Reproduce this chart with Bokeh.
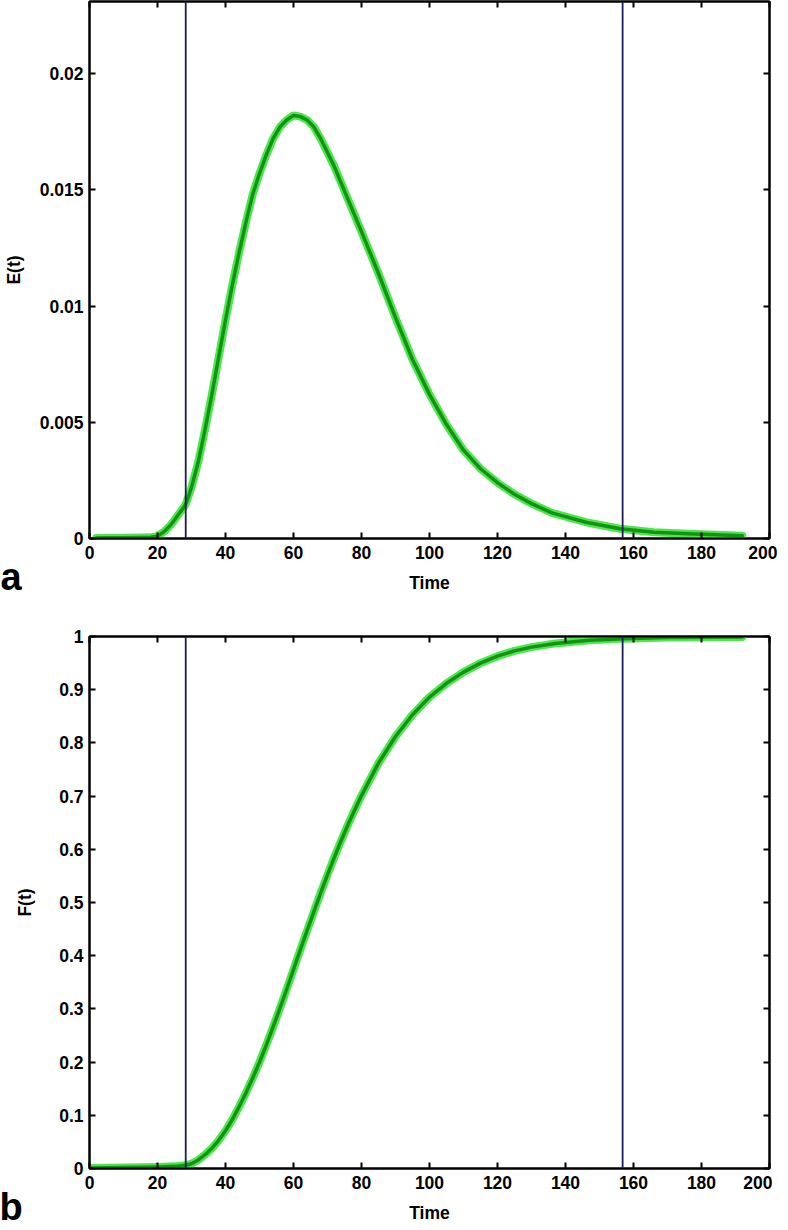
from bokeh.plotting import figure
from bokeh.layouts import column
from bokeh.models import (Range1d, LinearAxis, FixedTicker, CustomJSTickFormatter,
                          Span, Title)
from bokeh.embed import file_html
from bokeh.resources import INLINE

# ---------------- data ----------------
time_E = [2, 5, 10, 15, 18, 20, 22, 24, 26, 28, 28.5, 30, 32, 34, 36, 38, 40, 42,
          44, 46, 48, 50, 52, 54, 56, 58, 60, 62, 64, 66, 68, 70, 72, 74, 76, 78,
          80, 85, 90, 95, 100, 105, 110, 115, 120, 125, 130, 136, 146, 156, 166,
          176, 184, 192]
E_vals = [0.00002, 0.00003, 0.00003, 0.00004, 0.00005, 0.0001, 0.0003, 0.0006,
          0.0010, 0.0014, 0.00155, 0.0022, 0.0033, 0.0047, 0.0062, 0.0078, 0.0094,
          0.0109, 0.0123, 0.0136, 0.0148, 0.0157, 0.0165, 0.0172, 0.0177, 0.0180,
          0.0182, 0.01815, 0.0180, 0.0177, 0.0172, 0.0166, 0.0160, 0.0153, 0.0146,
          0.0139, 0.0132, 0.0114, 0.0095, 0.0077, 0.0062, 0.0049, 0.0038, 0.0030,
          0.0024, 0.0019, 0.0015, 0.0011, 0.0007, 0.00042, 0.00027, 0.0002,
          0.00016, 0.00012]

time_F = [0, 10, 20, 25, 28.3, 30, 32, 34, 36, 38, 40, 42, 44, 46, 48, 50, 52, 54,
          56, 58, 60, 62, 64, 66, 68, 70, 72, 74, 76, 78, 80, 85, 90, 95, 100, 105,
          110, 115, 120, 125, 130, 137, 147, 157, 170, 192]
F_vals = [0.001, 0.002, 0.003, 0.004, 0.006, 0.009, 0.016, 0.026, 0.038, 0.053,
          0.071, 0.092, 0.116, 0.142, 0.170, 0.200, 0.232, 0.266, 0.301, 0.337,
          0.374, 0.411, 0.447, 0.483, 0.518, 0.552, 0.585, 0.616, 0.646, 0.674,
          0.701, 0.762, 0.812, 0.853, 0.886, 0.912, 0.933, 0.950, 0.963, 0.973,
          0.980, 0.987, 0.993, 0.996, 0.998, 0.999]

cutoff_times = [28.3, 156.8]
x_ticks = [0, 20, 40, 60, 80, 100, 120, 140, 160, 180, 200]
E_ticks = [0, 0.005, 0.01, 0.015, 0.02]
F_ticks = [0, 0.1, 0.2, 0.3, 0.4, 0.5, 0.6, 0.7, 0.8, 0.9, 1]
x_label = "Time"
y_labels = ["E(t)", "F(t)"]
panel_letters = ["a", "b"]

FONT = "Liberation Sans"
FMT = CustomJSTickFormatter(code="return String(Number(tick.toFixed(4)));")
BLANK = CustomJSTickFormatter(code="return '';")


def style_axis(ax, ticks, show_labels=True):
    ax.ticker = FixedTicker(ticks=ticks)
    ax.axis_line_color = "black"
    ax.axis_line_width = 2
    ax.major_tick_line_color = "black"
    ax.major_tick_line_width = 2
    ax.major_tick_in = 6
    ax.major_tick_out = 0
    ax.minor_tick_line_color = None
    if show_labels:
        ax.formatter = FMT
        ax.major_label_text_font = FONT
        ax.major_label_text_font_size = "17.5px"
        ax.major_label_text_font_style = "bold"
        ax.major_label_text_color = "black"
        ax.major_label_standoff = 6
        ax.axis_label_text_font = FONT
        ax.axis_label_text_font_size = "17.5px"
        ax.axis_label_text_font_style = "bold"
        ax.axis_label_text_color = "black"
    else:
        # mirrored tick marks only (MATLAB-style box), no labels
        ax.formatter = BLANK
        ax.major_label_text_font_size = "1px"
        ax.major_label_standoff = 0


def make_panel(tx, ty, y_end, y_ticks, ylab, letter, ylab_standoff,
               top_border, bottom_border, fh, letter_offset, letter_standoff):
    p = figure(frame_width=680, frame_height=fh,
               x_range=Range1d(0, 200), y_range=Range1d(0, y_end),
               output_backend="svg", toolbar_location=None,
               min_border_left=84, min_border_right=8,
               min_border_top=top_border, min_border_bottom=bottom_border)
    p.grid.visible = False
    p.outline_line_color = "black"
    p.outline_line_width = 2
    p.background_fill_color = "white"
    p.border_fill_color = "white"

    style_axis(p.xaxis[0], x_ticks)
    style_axis(p.yaxis[0], y_ticks)
    p.xaxis[0].major_label_standoff = 7
    p.xaxis[0].axis_label = x_label
    p.xaxis[0].axis_label_standoff = 11
    p.yaxis[0].axis_label = ylab
    p.yaxis[0].axis_label_standoff = ylab_standoff

    top_ax = LinearAxis()
    style_axis(top_ax, x_ticks, show_labels=False)
    p.add_layout(top_ax, "above")
    right_ax = LinearAxis()
    style_axis(right_ax, y_ticks, show_labels=False)
    p.add_layout(right_ax, "right")

    for c in cutoff_times:
        p.add_layout(Span(location=c, dimension="height", line_color="#1c1c5c",
                          line_width=1.8))

    p.line(tx, ty, line_color="#3fe03f", line_width=8, line_alpha=0.9,
           line_join="round", line_cap="round")
    p.line(tx, ty, line_color="#0f960f", line_width=3.5,
           line_join="round", line_cap="round")

    p.add_layout(Title(text=letter, align="left", vertical_align="top",
                       offset=letter_offset, standoff=letter_standoff,
                       text_font=FONT, text_font_size="38px",
                       text_font_style="bold", text_color="black"), "below")
    return p


p1 = make_panel(time_E, E_vals, 0.0231, E_ticks, y_labels[0], panel_letters[0],
                13, 1, 85, 537, -89, -80)
p2 = make_panel(time_F, F_vals, 1.0, F_ticks, y_labels[1], panel_letters[1],
                21, 13, 58, 532, -90, -80)

layout = column(p1, p2, spacing=0)
open("out.html", "w").write(file_html(layout, INLINE))
